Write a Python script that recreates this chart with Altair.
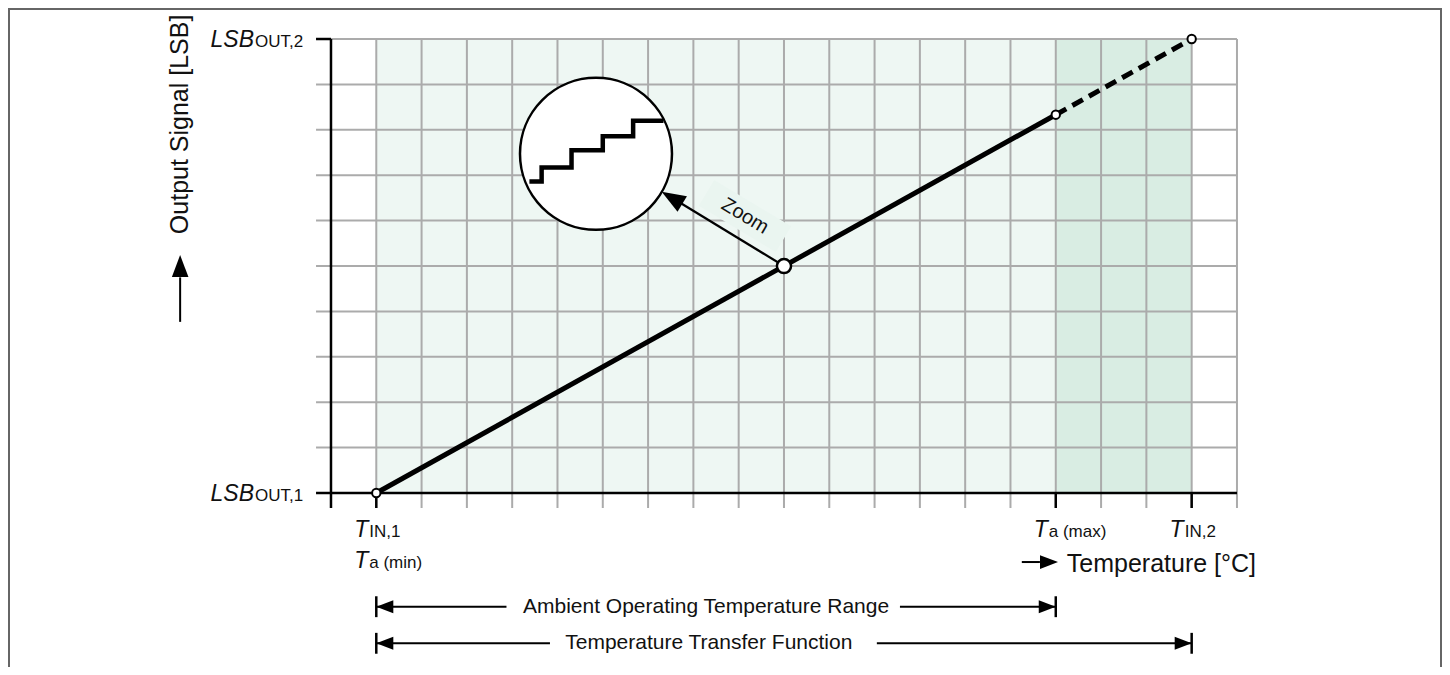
import altair as alt
import pandas as pd

# ---------------- data (grid units: one grid cell = 1) ----------------
x_grid = list(range(1, 21))            # vertical grid lines
y_grid = list(range(1, 11))            # horizontal grid lines
x_ticks = [1, 16, 19]                  # T_IN,1 / T_a(max) / T_IN,2
y_ticks = [0, 10]                      # LSB_OUT,1 / LSB_OUT,2
band_start = [1, 16]
band_end = [16, 19]
band_color = ["#eef7f3", "#d9ede3"]

solid_x = [1, 16]
solid_y = [0, 8.333]
dash_x = [16, 19]
dash_y = [8.333, 10]
end_x = [1, 16, 19]
end_y = [0, 8.333, 10]
zoom_x, zoom_y = 10, 5

inset_x, inset_y = 5.85, 7.47
stair_x = [4.38, 4.65, 5.31, 6.00, 6.67, 7.34]
stair_y = [6.86, 7.17, 7.55, 7.86, 8.20, 8.20]
zoom_tip = (7.30, 6.637)
zoom_base = (7.68, 6.41)

y_tick_main = ["LSB", "LSB"]
y_tick_sub = ["OUT,1", "OUT,2"]
x_tick_main = ["T", "T", "T"]
x_tick_sub = ["IN,1", "a (max)", "IN,2"]

range_labels = ["Ambient Operating Temperature Range", "Temperature Transfer Function"]
range_end = [16, 19]
range_row_y = [-2.504, -3.31]
range_label_x = [8.28, 8.34]
range_gap_l = [3.874, 4.834]
range_gap_r = [12.56, 12.05]

# ---------------- scales ----------------
XMIN, XMAX = -7.130, 24.526
YMIN, YMAX = -3.832, 10.683
XS = alt.Scale(domain=[XMIN, XMAX], nice=False, zero=False)
YS = alt.Scale(domain=[YMIN, YMAX], nice=False, zero=False)
FONT = "Liberation Sans"
INK = "#111111"
ARROW = "M0,0L0.38,1L-0.38,1Z"


def X():
    return alt.X("x:Q", scale=XS, axis=None)


def Y():
    return alt.Y("y:Q", scale=YS, axis=None)


def rules(rows, color, width, **kw):
    df = pd.DataFrame(rows, columns=["x", "x2", "y", "y2"])
    return alt.Chart(df).mark_rule(color=color, strokeWidth=width, **kw).encode(
        x=X(), x2="x2:Q", y=Y(), y2="y2:Q")


def label(x, y, text, size, dx=0, dy=0, align="center", baseline="alphabetic",
          style="normal", angle=0):
    df = pd.DataFrame({"x": [x], "y": [y], "t": [text]})
    return alt.Chart(df).mark_text(font=FONT, fontSize=size, dx=dx, dy=dy, align=align,
                                   baseline=baseline, fontStyle=style, angle=angle,
                                   color=INK).encode(x=X(), y=Y(), text="t:N")


def heads(rows):
    df = pd.DataFrame(rows, columns=["x", "y", "angle", "size"])
    return alt.Chart(df).mark_point(shape=ARROW, filled=True, color="black", opacity=1,
                                    strokeWidth=0).encode(
        x=X(), y=Y(), angle=alt.Angle("angle:Q", scale=None),
        size=alt.Size("size:Q", scale=None))


layers = []

# shaded bands
bands = pd.DataFrame({"x": band_start, "x2": band_end, "y": [0, 0], "y2": [10, 10],
                      "c": band_color})
layers.append(alt.Chart(bands).mark_rect().encode(
    x=X(), x2="x2:Q", y=Y(), y2="y2:Q", color=alt.Color("c:N", scale=None)))

# gray grid
g = [(gx, gx, -0.33, 10) for gx in x_grid] + [(-0.33, 20, gy, gy) for gy in y_grid]
layers.append(rules(g, "#ababab", 2))

# zoom label background
layers.append(rules([(8.29, 9.99, 6.61, 5.59)], "#eaf5f0", 30, strokeCap="butt"))

# black axes and ticks
ax = [(-0.33, 20, 0, 0), (0, 0, -0.33, 10), (-0.33, 0, 10, 10)]
ax += [(tx, tx, -0.33, 0) for tx in x_ticks]
layers.append(rules(ax, "black", 2.5))

# transfer function
layers.append(alt.Chart(pd.DataFrame({"x": solid_x, "y": solid_y})).mark_line(
    color="black", strokeWidth=5, strokeCap="butt").encode(x=X(), y=Y()))
layers.append(alt.Chart(pd.DataFrame({"x": dash_x, "y": dash_y})).mark_line(
    color="black", strokeWidth=5, strokeDash=[12, 7], strokeCap="butt").encode(x=X(), y=Y()))

# zoom arrow
layers.append(rules([(zoom_x, zoom_base[0], zoom_y, zoom_base[1])], "black", 2.2))

# inset circle + staircase
layers.append(alt.Chart(pd.DataFrame({"x": [inset_x], "y": [inset_y]})).mark_point(
    shape="circle", filled=True, fill="white", stroke="black", strokeWidth=2.5,
    opacity=1, size=23104).encode(x=X(), y=Y()))
layers.append(alt.Chart(pd.DataFrame({"x": stair_x, "y": stair_y})).mark_line(
    color="black", strokeWidth=4.5, interpolate="step-after", strokeJoin="miter",
    strokeCap="butt").encode(x=X(), y=Y()))

# end points and zoom point
layers.append(alt.Chart(pd.DataFrame({"x": end_x, "y": end_y})).mark_point(
    shape="circle", filled=True, fill="white", stroke="black", strokeWidth=2,
    opacity=1, size=70).encode(x=X(), y=Y()))
layers.append(alt.Chart(pd.DataFrame({"x": [zoom_x], "y": [zoom_y]})).mark_point(
    shape="circle", filled=True, fill="white", stroke="black", strokeWidth=2.5,
    opacity=1, size=200).encode(x=X(), y=Y()))

# axis title arrows
layers.append(rules([(-3.33, -3.33, 3.77, 4.75), (15.25, 15.65, -1.52, -1.52)], "black", 2))

# range dimension lines
rr = []
hh = [(zoom_tip[0], zoom_tip[1], 301, 2304), (-3.33, 5.24, 0, 1900), (16.05, -1.52, 90, 1300)]
for i in range(2):
    ry = range_row_y[i]
    rr += [(1, range_gap_l[i], ry, ry), (range_gap_r[i], range_end[i], ry, ry)]
    hh += [(1, ry, 270, 1156), (range_end[i], ry, 90, 1156)]
layers.append(rules(rr, "black", 2))
bars = []
for i in range(2):
    ry = range_row_y[i]
    bars += [(1, 1, ry - 0.23, ry + 0.23), (range_end[i], range_end[i], ry - 0.23, ry + 0.23)]
layers.append(rules(bars, "black", 2.5))
layers.append(heads(hh))

# ---------------- texts ----------------
MAIN, SUB = 23, 17
for ty, sub in zip(y_ticks, y_tick_sub):
    layers.append(label(0, ty, "LSB", MAIN, dx=-77, dy=8, align="right", style="italic"))
    layers.append(label(0, ty, sub, SUB, dx=-76, dy=8, align="left"))
for tx, sub in zip(x_ticks, x_tick_sub):
    layers.append(label(tx, 0, "T", MAIN, dx=-8, dy=44, align="right", style="italic"))
    layers.append(label(tx, 0, sub, SUB, dx=-7, dy=44, align="left"))
layers.append(label(1, 0, "T", MAIN, dx=-8, dy=75, align="right", style="italic"))
layers.append(label(1, 0, "a (min)", SUB, dx=-7, dy=75, align="left"))

layers.append(label(16, 0, "Temperature [°C]", 25, dx=11, dy=79, align="left"))
layers.append(label(-3.33, 8.12, "Output Signal [LSB]", 25, align="center",
                    baseline="middle", angle=270))
layers.append(label(9.14, 6.10, "Zoom", 20, align="center", baseline="middle", angle=31))
for i in range(2):
    layers.append(label(range_label_x[i], range_row_y[i], range_labels[i], 21,
                        align="center", baseline="middle"))

# frame
fr = [(XMIN, XMAX, YMAX - 0.022, YMAX - 0.022), (XMIN + 0.022, XMIN + 0.022, YMIN, YMAX),
      (XMAX - 0.022, XMAX - 0.022, YMIN, YMAX)]
layers.append(rules(fr, "#666666", 2))

chart = alt.layer(*layers).properties(
    width=1434, height=659, padding=0,
    autosize=alt.AutoSizeParams(type="none"), background="white"
).configure_view(stroke=None)

chart.save("out.html", embed_options={"renderer": "svg", "actions": False})
